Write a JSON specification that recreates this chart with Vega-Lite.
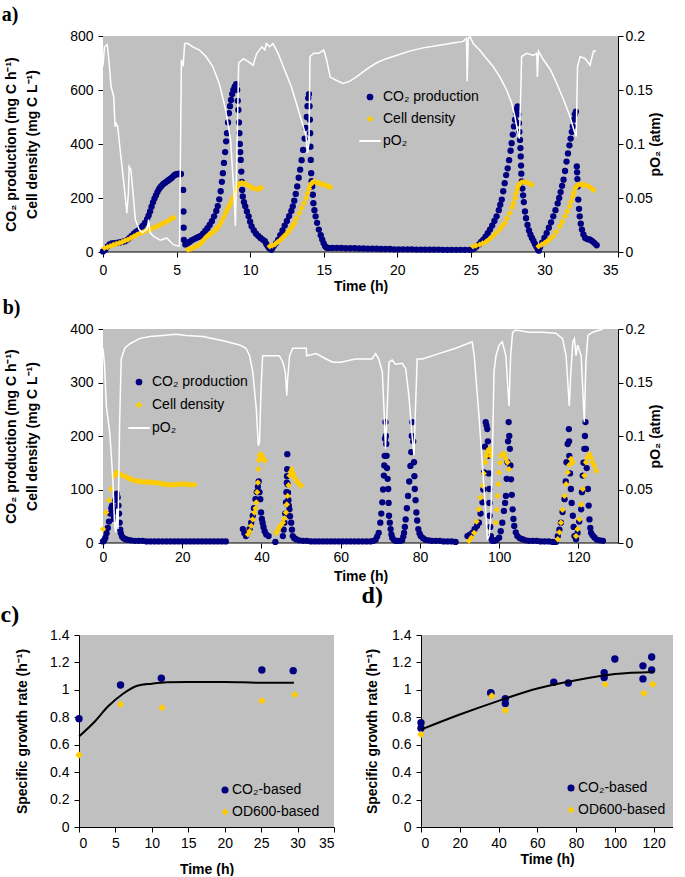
{
"$schema": "https://vega.github.io/schema/vega-lite/v6.json",
"background": "white",
"padding": {"left": 0, "top": 5, "right": 0, "bottom": 0},
"config": {
 "font": "Liberation Sans",
 "view": {"fill": "#C0C0C0", "stroke": null},
 "axis": {"domainColor": "black", "tickColor": "black", "labelColor": "black", "titleColor": "black", "labelFont": "Liberation Sans", "titleFont": "Liberation Sans", "labelFontSize": 14, "titleFontSize": 14, "titleFontWeight": "bold", "grid": false, "tickSize": 5, "labelPadding": 5, "domainWidth": 1, "tickWidth": 1, "labelOverlap": false},
 "legend": {"labelFont": "Liberation Sans", "labelFontSize": 14, "labelColor": "black", "title": null},
 "title": {"font": "Liberation Serif", "fontSize": 20, "fontWeight": "bold", "anchor": "start", "frame": "bounds", "color": "black"}
},
"spacing": 1,
"resolve": {"scale": {"color": "independent", "shape": "independent"}},
"vconcat": [
{"spacing": 5, "resolve": {"scale": {"color": "independent", "shape": "independent"}}, "vconcat": [
{
 "title": {"text": "a)", "dx": -3, "offset": 4},
 "width": 539, "height": 216,
 "view": {"fill": null, "stroke": null},
 "layer": [
  {"layer": [
   {
    "data": {"values": [{}]},
    "mark": {"type": "rect", "color": "#C0C0C0"},
    "encoding": {
     "x": {"datum": 0, "type": "quantitative", "scale": {"domain": [-1.63, 35], "nice": false, "zero": false}, "axis": {"values": [0,5,10,15,20,25,30,35], "title": "Time (h)", "labelPadding": 6, "titlePadding": 2, "domain": false, "titleX": 281.5}},
     "x2": {"datum": 35},
     "y": {"datum": 0, "type": "quantitative", "scale": {"domain": [0, 800], "nice": false}, "axis": {"values": [0,200,400,600,800], "title": ["CO₂ production (mg C h⁻¹)", "Cell density (mg C L⁻¹)"], "titleLineHeight": 21, "titlePadding": 30, "offset": -24}},
     "y2": {"datum": 800}
    }
   },
   {
    "data": {"values": [{}]},
    "mark": {"type": "rule", "color": "black", "strokeWidth": 1},
    "encoding": {
     "x": {"datum": 0, "type": "quantitative", "scale": {"domain": [-1.63, 35], "nice": false, "zero": false}, "axis": {"values": [0,5,10,15,20,25,30,35], "title": "Time (h)", "labelPadding": 6, "titlePadding": 2, "domain": false, "titleX": 281.5}},
     "x2": {"datum": 35},
     "y": {"datum": 0, "type": "quantitative", "scale": {"domain": [0, 800], "nice": false}, "axis": {"values": [0,200,400,600,800], "title": ["CO₂ production (mg C h⁻¹)", "Cell density (mg C L⁻¹)"], "titleLineHeight": 21, "titlePadding": 30, "offset": -24}}
    }
   },
   {
   "data": {"values": [
{"t":0,"v":2,"s":"CO₂ production"},{"t":0.15,"v":8,"s":"CO₂ production"},{"t":0.3,"v":20,"s":"CO₂ production"},{"t":0.45,"v":28,"s":"CO₂ production"},{"t":0.6,"v":32,"s":"CO₂ production"},{"t":0.75,"v":33,"s":"CO₂ production"},{"t":0.9,"v":34,"s":"CO₂ production"},{"t":1.05,"v":35,"s":"CO₂ production"},{"t":1.2,"v":36,"s":"CO₂ production"},{"t":1.35,"v":38,"s":"CO₂ production"},{"t":1.5,"v":40,"s":"CO₂ production"},{"t":1.65,"v":45,"s":"CO₂ production"},{"t":1.8,"v":52,"s":"CO₂ production"},{"t":1.95,"v":60,"s":"CO₂ production"},{"t":2.1,"v":68,"s":"CO₂ production"},{"t":2.25,"v":74,"s":"CO₂ production"},{"t":2.4,"v":80,"s":"CO₂ production"},{"t":2.55,"v":88,"s":"CO₂ production"},{"t":2.7,"v":97,"s":"CO₂ production"},{"t":2.85,"v":108,"s":"CO₂ production"},{"t":3.0,"v":122,"s":"CO₂ production"},{"t":3.1,"v":135,"s":"CO₂ production"},{"t":3.2,"v":150,"s":"CO₂ production"},{"t":3.3,"v":168,"s":"CO₂ production"},{"t":3.4,"v":184,"s":"CO₂ production"},{"t":3.5,"v":198,"s":"CO₂ production"},{"t":3.6,"v":210,"s":"CO₂ production"},{"t":3.7,"v":222,"s":"CO₂ production"},{"t":3.8,"v":232,"s":"CO₂ production"},{"t":3.9,"v":240,"s":"CO₂ production"},{"t":4.0,"v":246,"s":"CO₂ production"},{"t":4.1,"v":252,"s":"CO₂ production"},{"t":4.2,"v":256,"s":"CO₂ production"},{"t":4.3,"v":260,"s":"CO₂ production"},{"t":4.4,"v":264,"s":"CO₂ production"},{"t":4.5,"v":268,"s":"CO₂ production"},{"t":4.6,"v":272,"s":"CO₂ production"},{"t":4.7,"v":276,"s":"CO₂ production"},{"t":4.8,"v":282,"s":"CO₂ production"},{"t":4.9,"v":286,"s":"CO₂ production"},{"t":5.0,"v":288,"s":"CO₂ production"},{"t":5.1,"v":289,"s":"CO₂ production"},{"t":5.2,"v":290,"s":"CO₂ production"},{"t":5.3,"v":289,"s":"CO₂ production"},{"t":5.45,"v":230,"s":"CO₂ production"},{"t":5.47,"v":150,"s":"CO₂ production"},{"t":5.48,"v":90,"s":"CO₂ production"},{"t":5.5,"v":45,"s":"CO₂ production"},
{"t":5.6,"v":28,"s":"CO₂ production"},{"t":5.75,"v":32,"s":"CO₂ production"},{"t":5.9,"v":38,"s":"CO₂ production"},{"t":6.05,"v":44,"s":"CO₂ production"},{"t":6.2,"v":48,"s":"CO₂ production"},{"t":6.35,"v":52,"s":"CO₂ production"},{"t":6.5,"v":56,"s":"CO₂ production"},{"t":6.65,"v":60,"s":"CO₂ production"},{"t":6.8,"v":68,"s":"CO₂ production"},{"t":6.95,"v":78,"s":"CO₂ production"},{"t":7.1,"v":88,"s":"CO₂ production"},{"t":7.25,"v":100,"s":"CO₂ production"},{"t":7.4,"v":114,"s":"CO₂ production"},{"t":7.55,"v":132,"s":"CO₂ production"},{"t":7.7,"v":152,"s":"CO₂ production"},{"t":7.8,"v":170,"s":"CO₂ production"},{"t":7.9,"v":195,"s":"CO₂ production"},{"t":8.0,"v":225,"s":"CO₂ production"},{"t":8.08,"v":260,"s":"CO₂ production"},{"t":8.15,"v":292,"s":"CO₂ production"},{"t":8.22,"v":330,"s":"CO₂ production"},{"t":8.3,"v":370,"s":"CO₂ production"},{"t":8.37,"v":410,"s":"CO₂ production"},{"t":8.43,"v":440,"s":"CO₂ production"},{"t":8.5,"v":480,"s":"CO₂ production"},{"t":8.56,"v":514,"s":"CO₂ production"},{"t":8.63,"v":540,"s":"CO₂ production"},{"t":8.7,"v":563,"s":"CO₂ production"},{"t":8.78,"v":585,"s":"CO₂ production"},{"t":8.86,"v":600,"s":"CO₂ production"},{"t":8.95,"v":612,"s":"CO₂ production"},{"t":9.05,"v":622,"s":"CO₂ production"},{"t":9.12,"v":600,"s":"CO₂ production"},{"t":9.16,"v":560,"s":"CO₂ production"},{"t":9.2,"v":526,"s":"CO₂ production"},{"t":9.24,"v":480,"s":"CO₂ production"},{"t":9.27,"v":440,"s":"CO₂ production"},{"t":9.3,"v":400,"s":"CO₂ production"},{"t":9.33,"v":370,"s":"CO₂ production"},{"t":9.36,"v":341,"s":"CO₂ production"},{"t":9.4,"v":298,"s":"CO₂ production"},{"t":9.43,"v":260,"s":"CO₂ production"},{"t":9.46,"v":230,"s":"CO₂ production"},{"t":9.5,"v":206,"s":"CO₂ production"},{"t":9.58,"v":185,"s":"CO₂ production"},{"t":9.67,"v":169,"s":"CO₂ production"},{"t":9.78,"v":150,"s":"CO₂ production"},{"t":9.9,"v":132,"s":"CO₂ production"},{"t":10.0,"v":112,"s":"CO₂ production"},{"t":10.1,"v":95,"s":"CO₂ production"},{"t":10.25,"v":80,"s":"CO₂ production"},{"t":10.4,"v":68,"s":"CO₂ production"},{"t":10.55,"v":60,"s":"CO₂ production"},{"t":10.7,"v":52,"s":"CO₂ production"},{"t":10.85,"v":46,"s":"CO₂ production"},{"t":11.0,"v":40,"s":"CO₂ production"},{"t":11.1,"v":30,"s":"CO₂ production"},{"t":11.2,"v":21,"s":"CO₂ production"},{"t":11.3,"v":14,"s":"CO₂ production"},{"t":11.45,"v":8,"s":"CO₂ production"},
{"t":11.5,"v":15,"s":"CO₂ production"},{"t":11.6,"v":22,"s":"CO₂ production"},{"t":11.75,"v":32,"s":"CO₂ production"},{"t":11.9,"v":45,"s":"CO₂ production"},{"t":12.05,"v":62,"s":"CO₂ production"},{"t":12.2,"v":80,"s":"CO₂ production"},{"t":12.35,"v":98,"s":"CO₂ production"},{"t":12.5,"v":115,"s":"CO₂ production"},{"t":12.65,"v":133,"s":"CO₂ production"},{"t":12.8,"v":152,"s":"CO₂ production"},{"t":12.9,"v":169,"s":"CO₂ production"},{"t":13.0,"v":190,"s":"CO₂ production"},{"t":13.1,"v":215,"s":"CO₂ production"},{"t":13.2,"v":243,"s":"CO₂ production"},{"t":13.3,"v":275,"s":"CO₂ production"},{"t":13.4,"v":305,"s":"CO₂ production"},{"t":13.5,"v":340,"s":"CO₂ production"},{"t":13.6,"v":378,"s":"CO₂ production"},{"t":13.7,"v":420,"s":"CO₂ production"},{"t":13.78,"v":460,"s":"CO₂ production"},{"t":13.85,"v":500,"s":"CO₂ production"},{"t":13.9,"v":540,"s":"CO₂ production"},{"t":13.95,"v":570,"s":"CO₂ production"},{"t":14.0,"v":585,"s":"CO₂ production"},{"t":14.04,"v":540,"s":"CO₂ production"},{"t":14.06,"v":490,"s":"CO₂ production"},{"t":14.08,"v":440,"s":"CO₂ production"},{"t":14.1,"v":390,"s":"CO₂ production"},{"t":14.12,"v":341,"s":"CO₂ production"},{"t":14.15,"v":292,"s":"CO₂ production"},{"t":14.18,"v":262,"s":"CO₂ production"},{"t":14.22,"v":243,"s":"CO₂ production"},{"t":14.26,"v":212,"s":"CO₂ production"},{"t":14.3,"v":181,"s":"CO₂ production"},{"t":14.37,"v":155,"s":"CO₂ production"},{"t":14.45,"v":132,"s":"CO₂ production"},{"t":14.55,"v":108,"s":"CO₂ production"},{"t":14.67,"v":83,"s":"CO₂ production"},{"t":14.8,"v":62,"s":"CO₂ production"},{"t":14.9,"v":46,"s":"CO₂ production"},{"t":15.0,"v":32,"s":"CO₂ production"},{"t":15.1,"v":21,"s":"CO₂ production"},{"t":15.2,"v":16,"s":"CO₂ production"},{"t":15.33,"v":15,"s":"CO₂ production"},
{"t":15.6,"v":15,"s":"CO₂ production"},{"t":15.9,"v":15,"s":"CO₂ production"},{"t":16.2,"v":15,"s":"CO₂ production"},{"t":16.5,"v":14,"s":"CO₂ production"},{"t":16.8,"v":14,"s":"CO₂ production"},{"t":17.1,"v":14,"s":"CO₂ production"},{"t":17.4,"v":13,"s":"CO₂ production"},{"t":17.7,"v":13,"s":"CO₂ production"},{"t":18.0,"v":12,"s":"CO₂ production"},{"t":18.3,"v":12,"s":"CO₂ production"},{"t":18.6,"v":12,"s":"CO₂ production"},{"t":18.9,"v":11,"s":"CO₂ production"},{"t":19.2,"v":11,"s":"CO₂ production"},{"t":19.5,"v":11,"s":"CO₂ production"},{"t":19.8,"v":10,"s":"CO₂ production"},{"t":20.1,"v":10,"s":"CO₂ production"},{"t":20.4,"v":10,"s":"CO₂ production"},{"t":20.7,"v":10,"s":"CO₂ production"},{"t":21.0,"v":10,"s":"CO₂ production"},{"t":21.3,"v":9,"s":"CO₂ production"},{"t":21.6,"v":9,"s":"CO₂ production"},{"t":21.9,"v":9,"s":"CO₂ production"},{"t":22.2,"v":9,"s":"CO₂ production"},{"t":22.5,"v":9,"s":"CO₂ production"},{"t":22.8,"v":9,"s":"CO₂ production"},{"t":23.1,"v":8,"s":"CO₂ production"},{"t":23.4,"v":8,"s":"CO₂ production"},{"t":23.7,"v":8,"s":"CO₂ production"},{"t":24.0,"v":8,"s":"CO₂ production"},{"t":24.3,"v":8,"s":"CO₂ production"},{"t":24.6,"v":8,"s":"CO₂ production"},{"t":24.9,"v":8,"s":"CO₂ production"},
{"t":25.1,"v":10,"s":"CO₂ production"},{"t":25.25,"v":14,"s":"CO₂ production"},{"t":25.4,"v":21,"s":"CO₂ production"},{"t":25.55,"v":28,"s":"CO₂ production"},{"t":25.7,"v":37,"s":"CO₂ production"},{"t":25.85,"v":46,"s":"CO₂ production"},{"t":26.0,"v":57,"s":"CO₂ production"},{"t":26.15,"v":70,"s":"CO₂ production"},{"t":26.3,"v":83,"s":"CO₂ production"},{"t":26.45,"v":98,"s":"CO₂ production"},{"t":26.6,"v":115,"s":"CO₂ production"},{"t":26.75,"v":132,"s":"CO₂ production"},{"t":26.9,"v":155,"s":"CO₂ production"},{"t":27.0,"v":175,"s":"CO₂ production"},{"t":27.1,"v":194,"s":"CO₂ production"},{"t":27.2,"v":225,"s":"CO₂ production"},{"t":27.3,"v":255,"s":"CO₂ production"},{"t":27.4,"v":285,"s":"CO₂ production"},{"t":27.5,"v":310,"s":"CO₂ production"},{"t":27.6,"v":340,"s":"CO₂ production"},{"t":27.7,"v":375,"s":"CO₂ production"},{"t":27.77,"v":403,"s":"CO₂ production"},{"t":27.85,"v":435,"s":"CO₂ production"},{"t":27.93,"v":465,"s":"CO₂ production"},{"t":28.0,"v":490,"s":"CO₂ production"},{"t":28.07,"v":514,"s":"CO₂ production"},{"t":28.13,"v":530,"s":"CO₂ production"},{"t":28.18,"v":539,"s":"CO₂ production"},{"t":28.22,"v":510,"s":"CO₂ production"},{"t":28.27,"v":477,"s":"CO₂ production"},{"t":28.3,"v":445,"s":"CO₂ production"},{"t":28.34,"v":415,"s":"CO₂ production"},{"t":28.37,"v":385,"s":"CO₂ production"},{"t":28.39,"v":354,"s":"CO₂ production"},{"t":28.41,"v":320,"s":"CO₂ production"},{"t":28.43,"v":290,"s":"CO₂ production"},{"t":28.46,"v":261,"s":"CO₂ production"},{"t":28.5,"v":235,"s":"CO₂ production"},{"t":28.55,"v":210,"s":"CO₂ production"},{"t":28.6,"v":185,"s":"CO₂ production"},{"t":28.68,"v":150,"s":"CO₂ production"},{"t":28.75,"v":125,"s":"CO₂ production"},{"t":28.85,"v":100,"s":"CO₂ production"},{"t":28.95,"v":80,"s":"CO₂ production"},{"t":29.05,"v":64,"s":"CO₂ production"},{"t":29.15,"v":52,"s":"CO₂ production"},{"t":29.25,"v":42,"s":"CO₂ production"},{"t":29.35,"v":30,"s":"CO₂ production"},{"t":29.45,"v":20,"s":"CO₂ production"},{"t":29.55,"v":10,"s":"CO₂ production"},{"t":29.62,"v":5,"s":"CO₂ production"},
{"t":29.7,"v":18,"s":"CO₂ production"},{"t":29.85,"v":35,"s":"CO₂ production"},{"t":30.0,"v":52,"s":"CO₂ production"},{"t":30.15,"v":70,"s":"CO₂ production"},{"t":30.3,"v":90,"s":"CO₂ production"},{"t":30.45,"v":110,"s":"CO₂ production"},{"t":30.6,"v":132,"s":"CO₂ production"},{"t":30.75,"v":155,"s":"CO₂ production"},{"t":30.9,"v":180,"s":"CO₂ production"},{"t":31.0,"v":200,"s":"CO₂ production"},{"t":31.1,"v":222,"s":"CO₂ production"},{"t":31.2,"v":245,"s":"CO₂ production"},{"t":31.3,"v":268,"s":"CO₂ production"},{"t":31.4,"v":300,"s":"CO₂ production"},{"t":31.5,"v":335,"s":"CO₂ production"},{"t":31.6,"v":365,"s":"CO₂ production"},{"t":31.7,"v":395,"s":"CO₂ production"},{"t":31.78,"v":420,"s":"CO₂ production"},{"t":31.86,"v":445,"s":"CO₂ production"},{"t":31.93,"v":465,"s":"CO₂ production"},{"t":32.0,"v":490,"s":"CO₂ production"},{"t":32.07,"v":510,"s":"CO₂ production"},{"t":32.14,"v":520,"s":"CO₂ production"},{"t":32.2,"v":317,"s":"CO₂ production"},{"t":32.22,"v":295,"s":"CO₂ production"},{"t":32.24,"v":270,"s":"CO₂ production"},{"t":32.26,"v":243,"s":"CO₂ production"},{"t":32.3,"v":194,"s":"CO₂ production"},{"t":32.35,"v":160,"s":"CO₂ production"},{"t":32.4,"v":132,"s":"CO₂ production"},{"t":32.47,"v":105,"s":"CO₂ production"},{"t":32.55,"v":83,"s":"CO₂ production"},{"t":32.65,"v":65,"s":"CO₂ production"},{"t":32.77,"v":52,"s":"CO₂ production"},{"t":32.9,"v":48,"s":"CO₂ production"},{"t":33.0,"v":47,"s":"CO₂ production"},{"t":33.1,"v":46,"s":"CO₂ production"},{"t":33.25,"v":40,"s":"CO₂ production"},{"t":33.4,"v":33,"s":"CO₂ production"},{"t":33.55,"v":25,"s":"CO₂ production"},
{"t":0.1,"v":15,"s":"Cell density"},{"t":0.3,"v":18,"s":"Cell density"},{"t":0.5,"v":22,"s":"Cell density"},{"t":0.7,"v":26,"s":"Cell density"},{"t":0.9,"v":30,"s":"Cell density"},{"t":1.1,"v":33,"s":"Cell density"},{"t":1.3,"v":37,"s":"Cell density"},{"t":1.5,"v":42,"s":"Cell density"},{"t":1.7,"v":46,"s":"Cell density"},{"t":1.9,"v":52,"s":"Cell density"},{"t":2.1,"v":58,"s":"Cell density"},{"t":2.3,"v":64,"s":"Cell density"},{"t":2.5,"v":69,"s":"Cell density"},{"t":2.7,"v":73,"s":"Cell density"},{"t":2.9,"v":78,"s":"Cell density"},{"t":3.1,"v":82,"s":"Cell density"},{"t":3.3,"v":86,"s":"Cell density"},{"t":3.5,"v":91,"s":"Cell density"},{"t":3.7,"v":96,"s":"Cell density"},{"t":3.9,"v":101,"s":"Cell density"},{"t":4.1,"v":107,"s":"Cell density"},{"t":4.3,"v":112,"s":"Cell density"},{"t":4.5,"v":118,"s":"Cell density"},{"t":4.65,"v":123,"s":"Cell density"},{"t":4.8,"v":127,"s":"Cell density"},
{"t":5.78,"v":9,"s":"Cell density"},{"t":5.95,"v":12,"s":"Cell density"},{"t":6.1,"v":15,"s":"Cell density"},{"t":6.3,"v":20,"s":"Cell density"},{"t":6.5,"v":26,"s":"Cell density"},{"t":6.7,"v":35,"s":"Cell density"},{"t":6.85,"v":45,"s":"Cell density"},{"t":7.0,"v":55,"s":"Cell density"},{"t":7.15,"v":62,"s":"Cell density"},{"t":7.3,"v":67,"s":"Cell density"},{"t":7.45,"v":72,"s":"Cell density"},{"t":7.6,"v":80,"s":"Cell density"},{"t":7.75,"v":88,"s":"Cell density"},{"t":7.9,"v":98,"s":"Cell density"},{"t":8.05,"v":112,"s":"Cell density"},{"t":8.2,"v":128,"s":"Cell density"},{"t":8.33,"v":144,"s":"Cell density"},{"t":8.45,"v":158,"s":"Cell density"},{"t":8.57,"v":170,"s":"Cell density"},{"t":8.67,"v":181,"s":"Cell density"},{"t":8.78,"v":194,"s":"Cell density"},{"t":8.9,"v":206,"s":"Cell density"},{"t":9.0,"v":225,"s":"Cell density"},{"t":9.1,"v":240,"s":"Cell density"},{"t":9.2,"v":250,"s":"Cell density"},{"t":9.3,"v":254,"s":"Cell density"},{"t":9.44,"v":256,"s":"Cell density"},{"t":9.6,"v":253,"s":"Cell density"},{"t":9.78,"v":249,"s":"Cell density"},{"t":9.95,"v":244,"s":"Cell density"},{"t":10.1,"v":238,"s":"Cell density"},{"t":10.3,"v":235,"s":"Cell density"},{"t":10.45,"v":233,"s":"Cell density"},{"t":10.6,"v":235,"s":"Cell density"},{"t":10.75,"v":237,"s":"Cell density"},
{"t":11.33,"v":21,"s":"Cell density"},{"t":11.5,"v":24,"s":"Cell density"},{"t":11.67,"v":28,"s":"Cell density"},{"t":11.85,"v":36,"s":"Cell density"},{"t":12.0,"v":42,"s":"Cell density"},{"t":12.15,"v":50,"s":"Cell density"},{"t":12.3,"v":58,"s":"Cell density"},{"t":12.45,"v":66,"s":"Cell density"},{"t":12.6,"v":75,"s":"Cell density"},{"t":12.75,"v":85,"s":"Cell density"},{"t":12.9,"v":97,"s":"Cell density"},{"t":13.0,"v":107,"s":"Cell density"},{"t":13.15,"v":124,"s":"Cell density"},{"t":13.33,"v":144,"s":"Cell density"},{"t":13.5,"v":163,"s":"Cell density"},{"t":13.67,"v":181,"s":"Cell density"},{"t":13.8,"v":200,"s":"Cell density"},{"t":13.9,"v":218,"s":"Cell density"},{"t":14.0,"v":235,"s":"Cell density"},{"t":14.1,"v":249,"s":"Cell density"},{"t":14.2,"v":256,"s":"Cell density"},{"t":14.33,"v":261,"s":"Cell density"},{"t":14.5,"v":258,"s":"Cell density"},{"t":14.67,"v":255,"s":"Cell density"},{"t":14.85,"v":252,"s":"Cell density"},{"t":15.0,"v":249,"s":"Cell density"},{"t":15.15,"v":246,"s":"Cell density"},{"t":15.33,"v":243,"s":"Cell density"},{"t":15.45,"v":240,"s":"Cell density"},
{"t":25.15,"v":21,"s":"Cell density"},{"t":25.35,"v":24,"s":"Cell density"},{"t":25.6,"v":27,"s":"Cell density"},{"t":25.8,"v":32,"s":"Cell density"},{"t":26.05,"v":39,"s":"Cell density"},{"t":26.25,"v":47,"s":"Cell density"},{"t":26.5,"v":58,"s":"Cell density"},{"t":26.7,"v":70,"s":"Cell density"},{"t":26.95,"v":83,"s":"Cell density"},{"t":27.1,"v":95,"s":"Cell density"},{"t":27.3,"v":107,"s":"Cell density"},{"t":27.45,"v":125,"s":"Cell density"},{"t":27.65,"v":144,"s":"Cell density"},{"t":27.8,"v":165,"s":"Cell density"},{"t":27.9,"v":181,"s":"Cell density"},{"t":28.0,"v":200,"s":"Cell density"},{"t":28.07,"v":218,"s":"Cell density"},{"t":28.15,"v":232,"s":"Cell density"},{"t":28.2,"v":243,"s":"Cell density"},{"t":28.3,"v":252,"s":"Cell density"},{"t":28.45,"v":258,"s":"Cell density"},{"t":28.6,"v":260,"s":"Cell density"},{"t":28.8,"v":258,"s":"Cell density"},{"t":28.95,"v":254,"s":"Cell density"},{"t":29.14,"v":249,"s":"Cell density"},
{"t":29.6,"v":21,"s":"Cell density"},{"t":29.8,"v":27,"s":"Cell density"},{"t":30.0,"v":33,"s":"Cell density"},{"t":30.16,"v":39,"s":"Cell density"},{"t":30.35,"v":47,"s":"Cell density"},{"t":30.6,"v":58,"s":"Cell density"},{"t":30.8,"v":75,"s":"Cell density"},{"t":31.05,"v":95,"s":"Cell density"},{"t":31.2,"v":112,"s":"Cell density"},{"t":31.4,"v":132,"s":"Cell density"},{"t":31.55,"v":150,"s":"Cell density"},{"t":31.7,"v":169,"s":"Cell density"},{"t":31.82,"v":188,"s":"Cell density"},{"t":31.93,"v":206,"s":"Cell density"},{"t":32.0,"v":220,"s":"Cell density"},{"t":32.1,"v":237,"s":"Cell density"},{"t":32.2,"v":245,"s":"Cell density"},{"t":32.3,"v":249,"s":"Cell density"},{"t":32.5,"v":250,"s":"Cell density"},{"t":32.66,"v":249,"s":"Cell density"},{"t":32.85,"v":246,"s":"Cell density"},{"t":33.0,"v":243,"s":"Cell density"},{"t":33.15,"v":238,"s":"Cell density"},{"t":33.34,"v":230,"s":"Cell density"}
   ]},
   "mark": {"type": "point", "filled": true, "opacity": 1, "size": 40},
   "encoding": {
    "x": {"field": "t", "type": "quantitative", "scale": {"domain": [-1.63, 35], "nice": false, "zero": false}, "axis": {"values": [0,5,10,15,20,25,30,35], "title": "Time (h)", "labelPadding": 6, "titlePadding": 2, "domain": false, "titleX": 281.5}},
    "y": {"field": "v", "type": "quantitative", "scale": {"domain": [0, 800], "nice": false}, "axis": {"values": [0,200,400,600,800], "title": ["CO₂ production (mg C h⁻¹)", "Cell density (mg C L⁻¹)"], "titleLineHeight": 21, "titlePadding": 30, "offset": -24}},
    "color": {"field": "s", "type": "nominal", "scale": {"domain": ["CO₂ production", "Cell density", "pO₂"], "range": ["#000080", "#FFCC00", "#FFFFFF"]}, "legend": {"orient": "none", "legendX": 284, "legendY": 54, "symbolSize": 45, "rowPadding": 8, "labelOffset": 6}},
    "shape": {"field": "s", "type": "nominal", "scale": {"domain": ["CO₂ production", "Cell density", "pO₂"], "range": ["circle", "diamond", "M-3.2,-0.3H3.2V0.3H-3.2Z"]}, "legend": {"orient": "none", "legendX": 284, "legendY": 54, "symbolSize": 45, "rowPadding": 8, "labelOffset": 6}}
   }
  }
  ]},
  {
   "data": {"values": [
{"t":0,"p":0.172},{"t":0.1,"p":0.19},{"t":0.29,"p":0.192},{"t":0.4,"p":0.178},{"t":0.55,"p":0.153},{"t":0.73,"p":0.144},{"t":0.82,"p":0.116},{"t":0.9,"p":0.119},{"t":1.0,"p":0.116},{"t":1.22,"p":0.088},{"t":1.44,"p":0.061},{"t":1.62,"p":0.036},{"t":1.73,"p":0.055},{"t":1.78,"p":0.079},{"t":1.9,"p":0.076},{"t":2.0,"p":0.061},{"t":2.2,"p":0.03},{"t":2.45,"p":0.021},{"t":2.67,"p":0.018},{"t":3.0,"p":0.021},{"t":3.1,"p":0.03},{"t":3.2,"p":0.018},{"t":3.45,"p":0.0145},{"t":3.9,"p":0.011},{"t":4.33,"p":0.013},{"t":4.78,"p":0.0068},{"t":5.2,"p":0.0052},{"t":5.33,"p":0.178},{"t":5.45,"p":0.172},{"t":5.55,"p":0.193},{"t":5.78,"p":0.193},{"t":6.1,"p":0.19},{"t":6.55,"p":0.187},{"t":7.0,"p":0.181},{"t":7.45,"p":0.172},{"t":7.9,"p":0.156},{"t":8.33,"p":0.132},{"t":8.67,"p":0.104},{"t":8.9,"p":0.055},{"t":9.0,"p":0.024},{"t":9.1,"p":0.092},{"t":9.22,"p":0.175},{"t":9.55,"p":0.179},{"t":9.9,"p":0.176},{"t":10.2,"p":0.173},{"t":10.45,"p":0.184},{"t":10.8,"p":0.19},{"t":11.0,"p":0.187},{"t":11.1,"p":0.193},{"t":11.33,"p":0.19},{"t":11.55,"p":0.193},{"t":11.9,"p":0.184},{"t":12.33,"p":0.169},{"t":12.8,"p":0.153},{"t":13.2,"p":0.135},{"t":13.55,"p":0.119},{"t":13.8,"p":0.107},{"t":13.9,"p":0.092},{"t":14.0,"p":0.101},{"t":14.07,"p":0.181},{"t":14.33,"p":0.184},{"t":14.67,"p":0.184},{"t":15.0,"p":0.187},{"t":15.2,"p":0.178},{"t":15.44,"p":0.162},{"t":15.84,"p":0.159},{"t":16.3,"p":0.156},{"t":16.75,"p":0.158},{"t":17.2,"p":0.162},{"t":17.9,"p":0.169},{"t":18.57,"p":0.175},{"t":19.25,"p":0.179},{"t":19.93,"p":0.182},{"t":20.84,"p":0.186},{"t":21.75,"p":0.189},{"t":22.66,"p":0.191},{"t":23.57,"p":0.193},{"t":24.48,"p":0.195},{"t":24.7,"p":0.198},{"t":24.75,"p":0.158},{"t":24.82,"p":0.197},{"t":24.93,"p":0.2},{"t":25.16,"p":0.193},{"t":25.6,"p":0.187},{"t":26.07,"p":0.179},{"t":26.5,"p":0.172},{"t":26.98,"p":0.162},{"t":27.43,"p":0.15},{"t":27.77,"p":0.138},{"t":28.0,"p":0.125},{"t":28.2,"p":0.11},{"t":28.3,"p":0.105},{"t":28.4,"p":0.153},{"t":28.45,"p":0.181},{"t":28.8,"p":0.184},{"t":29.25,"p":0.182},{"t":29.48,"p":0.184},{"t":29.52,"p":0.162},{"t":29.6,"p":0.186},{"t":29.93,"p":0.178},{"t":30.4,"p":0.169},{"t":30.84,"p":0.156},{"t":31.3,"p":0.141},{"t":31.75,"p":0.125},{"t":32.0,"p":0.113},{"t":32.16,"p":0.107},{"t":32.25,"p":0.172},{"t":32.43,"p":0.181},{"t":32.77,"p":0.179},{"t":33.1,"p":0.173},{"t":33.2,"p":0.179},{"t":33.34,"p":0.186},{"t":33.5,"p":0.186}
   ]},
   "mark": {"type": "line", "color": "#FFFFFF", "strokeWidth": 1.5},
   "encoding": {
    "x": {"field": "t", "type": "quantitative", "scale": {"domain": [-1.63, 35], "nice": false, "zero": false}, "axis": {"values": [0,5,10,15,20,25,30,35], "title": "Time (h)", "labelPadding": 6, "titlePadding": 2, "domain": false, "titleX": 281.5}},
    "y": {"field": "p", "type": "quantitative", "scale": {"domain": [0, 0.2], "nice": false}, "axis": {"orient": "right", "values": [0,0.05,0.1,0.15,0.2], "format": "~g", "title": "pO₂ (atm)", "titleAngle": 270, "labelPadding": 2, "titlePadding": 10}}
   }
  }
 ],
 "resolve": {"scale": {"y": "independent"}}
},
{
 "title": {"text": "b)", "dx": -2, "offset": 4},
 "width": 539, "height": 214,
 "view": {"fill": null, "stroke": null},
 "layer": [
  {"layer": [
   {
    "data": {"values": [{}]},
    "mark": {"type": "rect", "color": "#C0C0C0"},
    "encoding": {
     "x": {"datum": 0, "type": "quantitative", "scale": {"domain": [-6.06, 130], "nice": false, "zero": false}, "axis": {"values": [0,20,40,60,80,100,120], "title": "Time (h)", "labelPadding": 2, "titlePadding": 5, "domain": false, "titleX": 281.5}},
     "x2": {"datum": 130},
     "y": {"datum": 0, "type": "quantitative", "scale": {"domain": [0, 400], "nice": false}, "axis": {"values": [0,100,200,300,400], "title": ["CO₂ production (mg C h⁻¹)", "Cell density (mg C L⁻¹)"], "titleLineHeight": 21, "titlePadding": 30, "offset": -24}},
     "y2": {"datum": 400}
    }
   },
   {
    "data": {"values": [{}]},
    "mark": {"type": "rule", "color": "black", "strokeWidth": 1},
    "encoding": {
     "x": {"datum": 0, "type": "quantitative", "scale": {"domain": [-6.06, 130], "nice": false, "zero": false}, "axis": {"values": [0,20,40,60,80,100,120], "title": "Time (h)", "labelPadding": 2, "titlePadding": 5, "domain": false, "titleX": 281.5}},
     "x2": {"datum": 130},
     "y": {"datum": 0, "type": "quantitative", "scale": {"domain": [0, 400], "nice": false}, "axis": {"values": [0,100,200,300,400], "title": ["CO₂ production (mg C h⁻¹)", "Cell density (mg C L⁻¹)"], "titleLineHeight": 21, "titlePadding": 30, "offset": -24}}
    }
   },
   {
   "data": {"values": [
{"t":0,"v":3,"s":"CO₂ production"},{"t":0.3,"v":5,"s":"CO₂ production"},{"t":0.6,"v":10,"s":"CO₂ production"},{"t":0.9,"v":18,"s":"CO₂ production"},{"t":1.2,"v":28,"s":"CO₂ production"},{"t":1.5,"v":40,"s":"CO₂ production"},{"t":1.8,"v":55,"s":"CO₂ production"},{"t":2.1,"v":65,"s":"CO₂ production"},{"t":2.3,"v":70,"s":"CO₂ production"},{"t":2.5,"v":55,"s":"CO₂ production"},{"t":2.7,"v":45,"s":"CO₂ production"},{"t":2.9,"v":62,"s":"CO₂ production"},{"t":3.1,"v":80,"s":"CO₂ production"},{"t":3.3,"v":90,"s":"CO₂ production"},{"t":3.5,"v":92,"s":"CO₂ production"},{"t":3.7,"v":85,"s":"CO₂ production"},{"t":3.9,"v":70,"s":"CO₂ production"},{"t":4.05,"v":55,"s":"CO₂ production"},{"t":4.2,"v":38,"s":"CO₂ production"},{"t":4.35,"v":25,"s":"CO₂ production"},{"t":4.5,"v":18,"s":"CO₂ production"},{"t":4.8,"v":12,"s":"CO₂ production"},{"t":5.2,"v":9,"s":"CO₂ production"},{"t":5.7,"v":7,"s":"CO₂ production"},{"t":6.3,"v":6,"s":"CO₂ production"},{"t":7,"v":5,"s":"CO₂ production"},{"t":8,"v":4,"s":"CO₂ production"},{"t":9,"v":4,"s":"CO₂ production"},{"t":10,"v":4,"s":"CO₂ production"},{"t":11,"v":3,"s":"CO₂ production"},{"t":12,"v":3,"s":"CO₂ production"},{"t":13,"v":3,"s":"CO₂ production"},{"t":14,"v":3,"s":"CO₂ production"},{"t":15,"v":3,"s":"CO₂ production"},{"t":16,"v":3,"s":"CO₂ production"},{"t":17,"v":3,"s":"CO₂ production"},{"t":18,"v":3,"s":"CO₂ production"},{"t":19,"v":3,"s":"CO₂ production"},{"t":20,"v":3,"s":"CO₂ production"},{"t":21,"v":3,"s":"CO₂ production"},{"t":22,"v":3,"s":"CO₂ production"},{"t":23,"v":3,"s":"CO₂ production"},{"t":24,"v":3,"s":"CO₂ production"},{"t":25,"v":3,"s":"CO₂ production"},{"t":26,"v":3,"s":"CO₂ production"},{"t":27,"v":3,"s":"CO₂ production"},{"t":28,"v":3,"s":"CO₂ production"},{"t":29,"v":3,"s":"CO₂ production"},{"t":30,"v":3,"s":"CO₂ production"},{"t":31,"v":3,"s":"CO₂ production"},
{"t":35.3,"v":26,"s":"CO₂ production"},{"t":35.7,"v":18,"s":"CO₂ production"},{"t":36.1,"v":13,"s":"CO₂ production"},{"t":36.5,"v":18,"s":"CO₂ production"},{"t":37.0,"v":26,"s":"CO₂ production"},{"t":37.4,"v":38,"s":"CO₂ production"},{"t":37.8,"v":51,"s":"CO₂ production"},{"t":38.1,"v":65,"s":"CO₂ production"},{"t":38.5,"v":82,"s":"CO₂ production"},{"t":38.8,"v":95,"s":"CO₂ production"},{"t":39.1,"v":105,"s":"CO₂ production"},{"t":39.3,"v":115,"s":"CO₂ production"},{"t":39.5,"v":95,"s":"CO₂ production"},{"t":39.7,"v":82,"s":"CO₂ production"},{"t":39.9,"v":57,"s":"CO₂ production"},{"t":40.1,"v":45,"s":"CO₂ production"},{"t":40.3,"v":38,"s":"CO₂ production"},{"t":40.5,"v":30,"s":"CO₂ production"},{"t":40.8,"v":22,"s":"CO₂ production"},{"t":41.2,"v":16,"s":"CO₂ production"},{"t":41.8,"v":13,"s":"CO₂ production"},{"t":43.5,"v":2,"s":"CO₂ production"},
{"t":45.4,"v":13,"s":"CO₂ production"},{"t":45.6,"v":25,"s":"CO₂ production"},{"t":45.8,"v":38,"s":"CO₂ production"},{"t":46.0,"v":55,"s":"CO₂ production"},{"t":46.2,"v":76,"s":"CO₂ production"},{"t":46.3,"v":95,"s":"CO₂ production"},{"t":46.4,"v":113,"s":"CO₂ production"},{"t":46.45,"v":125,"s":"CO₂ production"},{"t":46.5,"v":138,"s":"CO₂ production"},{"t":46.52,"v":166,"s":"CO₂ production"},{"t":46.6,"v":110,"s":"CO₂ production"},{"t":46.7,"v":94,"s":"CO₂ production"},{"t":46.8,"v":80,"s":"CO₂ production"},{"t":46.9,"v":70,"s":"CO₂ production"},{"t":47.05,"v":63,"s":"CO₂ production"},{"t":47.2,"v":50,"s":"CO₂ production"},{"t":47.5,"v":38,"s":"CO₂ production"},{"t":47.7,"v":25,"s":"CO₂ production"},{"t":47.9,"v":13,"s":"CO₂ production"},{"t":48.3,"v":9,"s":"CO₂ production"},{"t":48.7,"v":7,"s":"CO₂ production"},{"t":49.5,"v":5,"s":"CO₂ production"},{"t":50.5,"v":4,"s":"CO₂ production"},{"t":51.5,"v":4,"s":"CO₂ production"},{"t":52.5,"v":3,"s":"CO₂ production"},{"t":53.5,"v":3,"s":"CO₂ production"},{"t":54.5,"v":3,"s":"CO₂ production"},{"t":55.5,"v":3,"s":"CO₂ production"},{"t":56.5,"v":3,"s":"CO₂ production"},{"t":57.5,"v":3,"s":"CO₂ production"},{"t":58.5,"v":3,"s":"CO₂ production"},{"t":59.5,"v":3,"s":"CO₂ production"},{"t":60.5,"v":3,"s":"CO₂ production"},{"t":61.5,"v":3,"s":"CO₂ production"},{"t":62.5,"v":3,"s":"CO₂ production"},{"t":63.5,"v":3,"s":"CO₂ production"},{"t":64.5,"v":3,"s":"CO₂ production"},{"t":65.5,"v":3,"s":"CO₂ production"},{"t":66.5,"v":3,"s":"CO₂ production"},{"t":67.5,"v":3,"s":"CO₂ production"},{"t":68.3,"v":4,"s":"CO₂ production"},
{"t":68.8,"v":6,"s":"CO₂ production"},{"t":69.2,"v":12,"s":"CO₂ production"},{"t":69.6,"v":19,"s":"CO₂ production"},{"t":70.0,"v":38,"s":"CO₂ production"},{"t":70.25,"v":55,"s":"CO₂ production"},{"t":70.5,"v":76,"s":"CO₂ production"},{"t":70.7,"v":100,"s":"CO₂ production"},{"t":70.9,"v":126,"s":"CO₂ production"},{"t":71.0,"v":145,"s":"CO₂ production"},{"t":71.1,"v":163,"s":"CO₂ production"},{"t":71.2,"v":195,"s":"CO₂ production"},{"t":71.3,"v":226,"s":"CO₂ production"},{"t":71.4,"v":200,"s":"CO₂ production"},{"t":71.5,"v":185,"s":"CO₂ production"},{"t":71.6,"v":163,"s":"CO₂ production"},{"t":71.7,"v":140,"s":"CO₂ production"},{"t":71.85,"v":120,"s":"CO₂ production"},{"t":72.0,"v":101,"s":"CO₂ production"},{"t":72.1,"v":75,"s":"CO₂ production"},{"t":72.2,"v":51,"s":"CO₂ production"},{"t":72.4,"v":38,"s":"CO₂ production"},{"t":72.6,"v":26,"s":"CO₂ production"},{"t":72.8,"v":16,"s":"CO₂ production"},{"t":73.0,"v":10,"s":"CO₂ production"},{"t":73.4,"v":6,"s":"CO₂ production"},{"t":73.8,"v":4,"s":"CO₂ production"},{"t":74.4,"v":4,"s":"CO₂ production"},{"t":75.0,"v":4,"s":"CO₂ production"},{"t":75.5,"v":5,"s":"CO₂ production"},
{"t":75.8,"v":12,"s":"CO₂ production"},{"t":76.0,"v":19,"s":"CO₂ production"},{"t":76.2,"v":30,"s":"CO₂ production"},{"t":76.4,"v":44,"s":"CO₂ production"},{"t":76.7,"v":65,"s":"CO₂ production"},{"t":77.0,"v":88,"s":"CO₂ production"},{"t":77.3,"v":115,"s":"CO₂ production"},{"t":77.6,"v":144,"s":"CO₂ production"},{"t":77.8,"v":170,"s":"CO₂ production"},{"t":77.95,"v":200,"s":"CO₂ production"},{"t":78.1,"v":226,"s":"CO₂ production"},{"t":78.3,"v":190,"s":"CO₂ production"},{"t":78.5,"v":151,"s":"CO₂ production"},{"t":78.6,"v":125,"s":"CO₂ production"},{"t":78.7,"v":101,"s":"CO₂ production"},{"t":78.9,"v":80,"s":"CO₂ production"},{"t":79.1,"v":57,"s":"CO₂ production"},{"t":79.3,"v":42,"s":"CO₂ production"},{"t":79.6,"v":26,"s":"CO₂ production"},{"t":79.9,"v":18,"s":"CO₂ production"},{"t":80.2,"v":13,"s":"CO₂ production"},{"t":80.8,"v":9,"s":"CO₂ production"},{"t":81.4,"v":6,"s":"CO₂ production"},{"t":82.2,"v":5,"s":"CO₂ production"},{"t":83,"v":4,"s":"CO₂ production"},{"t":84,"v":4,"s":"CO₂ production"},{"t":85,"v":4,"s":"CO₂ production"},{"t":86,"v":3,"s":"CO₂ production"},{"t":87,"v":3,"s":"CO₂ production"},{"t":88,"v":3,"s":"CO₂ production"},{"t":89,"v":2,"s":"CO₂ production"},
{"t":92.0,"v":13,"s":"CO₂ production"},{"t":92.5,"v":15,"s":"CO₂ production"},{"t":93.2,"v":19,"s":"CO₂ production"},{"t":93.8,"v":26,"s":"CO₂ production"},{"t":94.4,"v":32,"s":"CO₂ production"},{"t":94.9,"v":38,"s":"CO₂ production"},{"t":95.3,"v":55,"s":"CO₂ production"},{"t":95.8,"v":76,"s":"CO₂ production"},{"t":96.0,"v":100,"s":"CO₂ production"},{"t":96.2,"v":132,"s":"CO₂ production"},{"t":96.4,"v":180,"s":"CO₂ production"},{"t":96.6,"v":226,"s":"CO₂ production"},{"t":96.8,"v":220,"s":"CO₂ production"},{"t":97.0,"v":213,"s":"CO₂ production"},{"t":97.15,"v":190,"s":"CO₂ production"},{"t":97.3,"v":163,"s":"CO₂ production"},{"t":97.4,"v":130,"s":"CO₂ production"},{"t":97.5,"v":101,"s":"CO₂ production"},{"t":97.55,"v":75,"s":"CO₂ production"},{"t":97.6,"v":51,"s":"CO₂ production"},{"t":97.75,"v":30,"s":"CO₂ production"},{"t":97.9,"v":13,"s":"CO₂ production"},{"t":98.1,"v":7,"s":"CO₂ production"},{"t":98.3,"v":4,"s":"CO₂ production"},{"t":98.8,"v":4,"s":"CO₂ production"},{"t":99.4,"v":6,"s":"CO₂ production"},
{"t":100.0,"v":10,"s":"CO₂ production"},{"t":100.4,"v":22,"s":"CO₂ production"},{"t":100.8,"v":38,"s":"CO₂ production"},{"t":101.2,"v":60,"s":"CO₂ production"},{"t":101.5,"v":75,"s":"CO₂ production"},{"t":101.7,"v":88,"s":"CO₂ production"},{"t":101.9,"v":120,"s":"CO₂ production"},{"t":102.1,"v":151,"s":"CO₂ production"},{"t":102.25,"v":190,"s":"CO₂ production"},{"t":102.4,"v":226,"s":"CO₂ production"},{"t":102.55,"v":200,"s":"CO₂ production"},{"t":102.7,"v":176,"s":"CO₂ production"},{"t":102.85,"v":145,"s":"CO₂ production"},{"t":103.0,"v":119,"s":"CO₂ production"},{"t":103.2,"v":90,"s":"CO₂ production"},{"t":103.4,"v":63,"s":"CO₂ production"},{"t":103.6,"v":45,"s":"CO₂ production"},{"t":103.8,"v":32,"s":"CO₂ production"},{"t":104.2,"v":20,"s":"CO₂ production"},{"t":104.6,"v":13,"s":"CO₂ production"},{"t":105.2,"v":9,"s":"CO₂ production"},{"t":105.9,"v":7,"s":"CO₂ production"},{"t":106.7,"v":5,"s":"CO₂ production"},{"t":107.5,"v":4,"s":"CO₂ production"},{"t":108.5,"v":4,"s":"CO₂ production"},{"t":109.5,"v":4,"s":"CO₂ production"},{"t":110.5,"v":3,"s":"CO₂ production"},{"t":111.5,"v":3,"s":"CO₂ production"},{"t":112.5,"v":3,"s":"CO₂ production"},{"t":113.5,"v":2,"s":"CO₂ production"},{"t":114.3,"v":2,"s":"CO₂ production"},
{"t":114.8,"v":13,"s":"CO₂ production"},{"t":115.2,"v":25,"s":"CO₂ production"},{"t":115.6,"v":38,"s":"CO₂ production"},{"t":116.0,"v":58,"s":"CO₂ production"},{"t":116.5,"v":82,"s":"CO₂ production"},{"t":116.8,"v":115,"s":"CO₂ production"},{"t":117.0,"v":151,"s":"CO₂ production"},{"t":117.3,"v":185,"s":"CO₂ production"},{"t":117.6,"v":213,"s":"CO₂ production"},{"t":117.65,"v":190,"s":"CO₂ production"},{"t":117.7,"v":163,"s":"CO₂ production"},{"t":117.9,"v":130,"s":"CO₂ production"},{"t":118.1,"v":101,"s":"CO₂ production"},{"t":118.3,"v":75,"s":"CO₂ production"},{"t":118.6,"v":51,"s":"CO₂ production"},{"t":118.8,"v":30,"s":"CO₂ production"},{"t":119.0,"v":13,"s":"CO₂ production"},{"t":119.4,"v":7,"s":"CO₂ production"},
{"t":119.8,"v":19,"s":"CO₂ production"},{"t":120.2,"v":40,"s":"CO₂ production"},{"t":120.7,"v":63,"s":"CO₂ production"},{"t":120.9,"v":95,"s":"CO₂ production"},{"t":121.1,"v":126,"s":"CO₂ production"},{"t":121.3,"v":150,"s":"CO₂ production"},{"t":121.5,"v":176,"s":"CO₂ production"},{"t":121.65,"v":200,"s":"CO₂ production"},{"t":121.8,"v":226,"s":"CO₂ production"},{"t":121.9,"v":176,"s":"CO₂ production"},{"t":122.1,"v":140,"s":"CO₂ production"},{"t":122.4,"v":101,"s":"CO₂ production"},{"t":122.6,"v":70,"s":"CO₂ production"},{"t":122.8,"v":44,"s":"CO₂ production"},{"t":123.0,"v":28,"s":"CO₂ production"},{"t":123.2,"v":19,"s":"CO₂ production"},{"t":123.6,"v":14,"s":"CO₂ production"},{"t":124.1,"v":10,"s":"CO₂ production"},{"t":124.7,"v":6,"s":"CO₂ production"},{"t":125.4,"v":5,"s":"CO₂ production"},{"t":126.2,"v":4,"s":"CO₂ production"},
{"t":0,"v":26,"s":"Cell density"},{"t":0.8,"v":57,"s":"Cell density"},{"t":1.5,"v":80,"s":"Cell density"},{"t":2.1,"v":101,"s":"Cell density"},{"t":2.8,"v":125,"s":"Cell density"},{"t":3.4,"v":132,"s":"Cell density"},{"t":3.8,"v":130,"s":"Cell density"},{"t":4.2,"v":129,"s":"Cell density"},{"t":4.8,"v":127,"s":"Cell density"},{"t":5.4,"v":125,"s":"Cell density"},{"t":5.9,"v":123,"s":"Cell density"},{"t":6.5,"v":121,"s":"Cell density"},{"t":7.1,"v":119,"s":"Cell density"},{"t":7.7,"v":117,"s":"Cell density"},{"t":8.4,"v":116,"s":"Cell density"},{"t":9.0,"v":115,"s":"Cell density"},{"t":9.6,"v":115,"s":"Cell density"},{"t":10.3,"v":114,"s":"Cell density"},{"t":10.9,"v":114,"s":"Cell density"},{"t":11.5,"v":114,"s":"Cell density"},{"t":12.1,"v":113,"s":"Cell density"},{"t":12.8,"v":113,"s":"Cell density"},{"t":13.4,"v":113,"s":"Cell density"},{"t":14.0,"v":112,"s":"Cell density"},{"t":14.6,"v":111,"s":"Cell density"},{"t":15.1,"v":110,"s":"Cell density"},{"t":15.7,"v":110,"s":"Cell density"},{"t":16.4,"v":109,"s":"Cell density"},{"t":17.0,"v":109,"s":"Cell density"},{"t":17.6,"v":109,"s":"Cell density"},{"t":18.3,"v":109,"s":"Cell density"},{"t":18.9,"v":110,"s":"Cell density"},{"t":19.5,"v":110,"s":"Cell density"},{"t":20.2,"v":110,"s":"Cell density"},{"t":20.8,"v":110,"s":"Cell density"},{"t":21.5,"v":109,"s":"Cell density"},{"t":22.3,"v":109,"s":"Cell density"},{"t":23.1,"v":109,"s":"Cell density"},
{"t":36.6,"v":16,"s":"Cell density"},{"t":37.0,"v":22,"s":"Cell density"},{"t":37.4,"v":32,"s":"Cell density"},{"t":37.8,"v":44,"s":"Cell density"},{"t":38.2,"v":57,"s":"Cell density"},{"t":38.5,"v":65,"s":"Cell density"},{"t":38.7,"v":76,"s":"Cell density"},{"t":38.9,"v":95,"s":"Cell density"},{"t":39.1,"v":113,"s":"Cell density"},{"t":39.2,"v":138,"s":"Cell density"},{"t":39.35,"v":155,"s":"Cell density"},{"t":39.5,"v":163,"s":"Cell density"},{"t":39.7,"v":165,"s":"Cell density"},{"t":39.9,"v":166,"s":"Cell density"},{"t":40.1,"v":163,"s":"Cell density"},{"t":40.3,"v":160,"s":"Cell density"},{"t":40.6,"v":156,"s":"Cell density"},{"t":40.8,"v":154,"s":"Cell density"},
{"t":43.7,"v":19,"s":"Cell density"},{"t":44.1,"v":24,"s":"Cell density"},{"t":44.5,"v":29,"s":"Cell density"},{"t":44.9,"v":33,"s":"Cell density"},{"t":45.4,"v":38,"s":"Cell density"},{"t":45.8,"v":46,"s":"Cell density"},{"t":46.2,"v":57,"s":"Cell density"},{"t":46.4,"v":72,"s":"Cell density"},{"t":46.6,"v":88,"s":"Cell density"},{"t":46.85,"v":108,"s":"Cell density"},{"t":47.1,"v":126,"s":"Cell density"},{"t":47.4,"v":133,"s":"Cell density"},{"t":47.7,"v":138,"s":"Cell density"},{"t":48.0,"v":130,"s":"Cell density"},{"t":48.3,"v":123,"s":"Cell density"},{"t":48.7,"v":118,"s":"Cell density"},{"t":49.2,"v":113,"s":"Cell density"},{"t":49.6,"v":110,"s":"Cell density"},{"t":50.0,"v":107,"s":"Cell density"},
{"t":92.4,"v":4,"s":"Cell density"},{"t":93.0,"v":10,"s":"Cell density"},{"t":93.7,"v":19,"s":"Cell density"},{"t":94.3,"v":40,"s":"Cell density"},{"t":94.9,"v":63,"s":"Cell density"},{"t":95.3,"v":85,"s":"Cell density"},{"t":95.8,"v":107,"s":"Cell density"},{"t":96.1,"v":130,"s":"Cell density"},{"t":96.5,"v":151,"s":"Cell density"},{"t":96.75,"v":162,"s":"Cell density"},{"t":97.0,"v":169,"s":"Cell density"},{"t":97.25,"v":173,"s":"Cell density"},{"t":97.5,"v":176,"s":"Cell density"},{"t":97.7,"v":170,"s":"Cell density"},{"t":97.9,"v":163,"s":"Cell density"},
{"t":99.2,"v":38,"s":"Cell density"},{"t":99.4,"v":62,"s":"Cell density"},{"t":99.6,"v":88,"s":"Cell density"},{"t":99.8,"v":110,"s":"Cell density"},{"t":100.0,"v":132,"s":"Cell density"},{"t":100.2,"v":150,"s":"Cell density"},{"t":100.4,"v":163,"s":"Cell density"},{"t":100.8,"v":166,"s":"Cell density"},{"t":101.3,"v":166,"s":"Cell density"},{"t":101.7,"v":158,"s":"Cell density"},{"t":102.1,"v":151,"s":"Cell density"},{"t":102.5,"v":138,"s":"Cell density"},
{"t":114.8,"v":7,"s":"Cell density"},{"t":115.2,"v":20,"s":"Cell density"},{"t":115.6,"v":38,"s":"Cell density"},{"t":116.0,"v":62,"s":"Cell density"},{"t":116.5,"v":88,"s":"Cell density"},{"t":116.9,"v":110,"s":"Cell density"},{"t":117.3,"v":132,"s":"Cell density"},{"t":117.7,"v":146,"s":"Cell density"},{"t":118.1,"v":157,"s":"Cell density"},{"t":118.6,"v":151,"s":"Cell density"},
{"t":119.4,"v":13,"s":"Cell density"},{"t":119.8,"v":26,"s":"Cell density"},{"t":120.3,"v":44,"s":"Cell density"},{"t":120.7,"v":72,"s":"Cell density"},{"t":121.1,"v":101,"s":"Cell density"},{"t":121.5,"v":126,"s":"Cell density"},{"t":121.9,"v":151,"s":"Cell density"},{"t":122.3,"v":160,"s":"Cell density"},{"t":122.8,"v":166,"s":"Cell density"},{"t":123.2,"v":160,"s":"Cell density"},{"t":123.6,"v":151,"s":"Cell density"},{"t":124.0,"v":144,"s":"Cell density"},{"t":124.5,"v":135,"s":"Cell density"}
   ]},
   "mark": {"type": "point", "filled": true, "opacity": 1, "size": 40},
   "encoding": {
    "x": {"field": "t", "type": "quantitative", "scale": {"domain": [-6.06, 130], "nice": false, "zero": false}, "axis": {"values": [0,20,40,60,80,100,120], "title": "Time (h)", "labelPadding": 2, "titlePadding": 5, "domain": false, "titleX": 281.5}},
    "y": {"field": "v", "type": "quantitative", "scale": {"domain": [0, 400], "nice": false}, "axis": {"values": [0,100,200,300,400], "title": ["CO₂ production (mg C h⁻¹)", "Cell density (mg C L⁻¹)"], "titleLineHeight": 21, "titlePadding": 30, "offset": -24}},
    "color": {"field": "s", "type": "nominal", "scale": {"domain": ["CO₂ production", "Cell density", "pO₂"], "range": ["#000080", "#FFCC00", "#FFFFFF"]}, "legend": {"orient": "none", "legendX": 53, "legendY": 46, "symbolSize": 45, "rowPadding": 9, "labelOffset": 6}},
    "shape": {"field": "s", "type": "nominal", "scale": {"domain": ["CO₂ production", "Cell density", "pO₂"], "range": ["circle", "diamond", "M-3.2,-0.3H3.2V0.3H-3.2Z"]}, "legend": {"orient": "none", "legendX": 53, "legendY": 46, "symbolSize": 45, "rowPadding": 9, "labelOffset": 6}}
   }
  }
  ]},
  {
   "data": {"values": [
{"t":0,"p":0.182},{"t":0.4,"p":0.166},{"t":0.84,"p":0.128},{"t":1.26,"p":0.116},{"t":1.7,"p":0.103},{"t":2.1,"p":0.082},{"t":2.5,"p":0.057},{"t":2.9,"p":0.019},{"t":3.2,"p":0.01},{"t":3.5,"p":0.032},{"t":3.8,"p":0.013},{"t":4.2,"p":0.113},{"t":4.6,"p":0.172},{"t":5.5,"p":0.182},{"t":6.7,"p":0.186},{"t":9.2,"p":0.191},{"t":11.8,"p":0.193},{"t":15.1,"p":0.194},{"t":18.5,"p":0.195},{"t":21,"p":0.194},{"t":25.2,"p":0.193},{"t":30.3,"p":0.189},{"t":34.5,"p":0.185},{"t":36.1,"p":0.182},{"t":37,"p":0.175},{"t":37.8,"p":0.16},{"t":38.7,"p":0.125},{"t":39.2,"p":0.091},{"t":39.5,"p":0.094},{"t":39.9,"p":0.144},{"t":40.3,"p":0.175},{"t":42.9,"p":0.175},{"t":44.5,"p":0.175},{"t":45.4,"p":0.169},{"t":46,"p":0.16},{"t":46.4,"p":0.138},{"t":46.6,"p":0.153},{"t":47.1,"p":0.175},{"t":47.9,"p":0.182},{"t":51.3,"p":0.182},{"t":51.4,"p":0.175},{"t":53.8,"p":0.177},{"t":56.3,"p":0.172},{"t":58,"p":0.169},{"t":60,"p":0.169},{"t":63.7,"p":0.172},{"t":66.2,"p":0.172},{"t":67.9,"p":0.172},{"t":68.8,"p":0.177},{"t":69.6,"p":0.172},{"t":70.5,"p":0.16},{"t":70.9,"p":0.128},{"t":71.3,"p":0.088},{"t":71.6,"p":0.113},{"t":72.2,"p":0.169},{"t":73,"p":0.171},{"t":73.8,"p":0.167},{"t":75.5,"p":0.168},{"t":76.4,"p":0.163},{"t":77.2,"p":0.138},{"t":78.1,"p":0.097},{"t":78.5,"p":0.082},{"t":78.9,"p":0.128},{"t":79.3,"p":0.172},{"t":80.6,"p":0.172},{"t":84.8,"p":0.177},{"t":89,"p":0.182},{"t":93.2,"p":0.188},{"t":93.7,"p":0.175},{"t":94.9,"p":0.119},{"t":96.2,"p":0.05},{"t":96.9,"p":0.013},{"t":97,"p":0.003},{"t":97.5,"p":0.007},{"t":97.9,"p":0.025},{"t":98.3,"p":0.082},{"t":98.7,"p":0.16},{"t":99.2,"p":0.175},{"t":100,"p":0.185},{"t":100.8,"p":0.188},{"t":101.7,"p":0.175},{"t":102.1,"p":0.15},{"t":102.5,"p":0.128},{"t":102.9,"p":0.175},{"t":103.4,"p":0.197},{"t":104.2,"p":0.199},{"t":107.6,"p":0.197},{"t":111,"p":0.197},{"t":114.3,"p":0.196},{"t":116,"p":0.191},{"t":116.9,"p":0.175},{"t":117.7,"p":0.128},{"t":118.1,"p":0.16},{"t":118.6,"p":0.188},{"t":119,"p":0.191},{"t":119.4,"p":0.175},{"t":119.8,"p":0.185},{"t":120.7,"p":0.175},{"t":121.1,"p":0.144},{"t":121.5,"p":0.113},{"t":121.9,"p":0.169},{"t":122.4,"p":0.194},{"t":123.6,"p":0.197},{"t":126.2,"p":0.2}
   ]},
   "mark": {"type": "line", "color": "#FFFFFF", "strokeWidth": 1.5},
   "encoding": {
    "x": {"field": "t", "type": "quantitative", "scale": {"domain": [-6.06, 130], "nice": false, "zero": false}, "axis": {"values": [0,20,40,60,80,100,120], "title": "Time (h)", "labelPadding": 2, "titlePadding": 5, "domain": false, "titleX": 281.5}},
    "y": {"field": "p", "type": "quantitative", "scale": {"domain": [0, 0.2], "nice": false}, "axis": {"orient": "right", "values": [0,0.05,0.1,0.15,0.2], "format": "~g", "title": "pO₂ (atm)", "titleAngle": 270, "labelPadding": 2, "titlePadding": 10}}
   }
  }
 ],
 "resolve": {"scale": {"y": "independent"}}
}
]},
{"hconcat": [
{
 "title": {"text": "c)", "dx": -15, "offset": 1, "fontSize": 24},
 "width": 255, "height": 192,
 "layer": [
  {
   "data": {"values": [
{"t":0,"v":0.79,"s":"CO₂-based"},{"t":5.7,"v":1.035,"s":"CO₂-based"},{"t":11.3,"v":1.085,"s":"CO₂-based"},{"t":25.1,"v":1.145,"s":"CO₂-based"},{"t":29.4,"v":1.14,"s":"CO₂-based"},
{"t":0,"v":0.525,"s":"OD600-based"},{"t":5.7,"v":0.895,"s":"OD600-based"},{"t":11.4,"v":0.87,"s":"OD600-based"},{"t":25.1,"v":0.92,"s":"OD600-based"},{"t":29.6,"v":0.965,"s":"OD600-based"}
   ]},
   "mark": {"type": "point", "filled": true, "opacity": 1, "size": 55},
   "encoding": {
    "x": {"field": "t", "type": "quantitative", "scale": {"domain": [0, 35], "nice": false}, "axis": {"values": [0,5,10,15,20,25,30,35], "title": "Time (h)", "labelPadding": 4, "titlePadding": 12}},
    "y": {"field": "v", "type": "quantitative", "scale": {"domain": [0, 1.4], "nice": false}, "axis": {"values": [0,0.2,0.4,0.6,0.8,1,1.2,1.4], "format": "~g", "title": "Specific growth rate (h⁻¹)", "titlePadding": 20}},
    "color": {"field": "s", "type": "nominal", "scale": {"domain": ["CO₂-based", "OD600-based"], "range": ["#000080", "#FFCC00"]}, "legend": {"orient": "none", "legendX": 139, "legendY": 148, "symbolSize": 50, "rowPadding": 8, "labelOffset": 0}},
    "shape": {"field": "s", "type": "nominal", "scale": {"domain": ["CO₂-based", "OD600-based"], "range": ["circle", "diamond"]}, "legend": {"orient": "none", "legendX": 139, "legendY": 148, "symbolSize": 50, "rowPadding": 8, "labelOffset": 0}}
   }
  },
  {
   "data": {"values": [
{"t":0,"m":0.66},{"t":2,"m":0.76},{"t":4,"m":0.88},{"t":6,"m":0.97},{"t":8,"m":1.03},{"t":10,"m":1.045},{"t":12,"m":1.055},{"t":15,"m":1.058},{"t":20,"m":1.058},{"t":25,"m":1.052},{"t":29.5,"m":1.052}
   ]},
   "mark": {"type": "line", "color": "black", "strokeWidth": 2, "interpolate": "monotone"},
   "encoding": {
    "x": {"field": "t", "type": "quantitative", "axis": {"values": [0,5,10,15,20,25,30,35], "title": "Time (h)", "labelPadding": 4, "titlePadding": 12}},
    "y": {"field": "m", "type": "quantitative", "axis": {"values": [0,0.2,0.4,0.6,0.8,1,1.2,1.4], "format": "~g", "title": "Specific growth rate (h⁻¹)", "titlePadding": 20}}
   }
  }
 ]
},
{
 "title": {"text": "d)", "dx": -4, "offset": 20, "fontSize": 24},
 "width": 252, "height": 192,
 "layer": [
  {
   "data": {"values": [
{"t":0,"v":0.76,"s":"CO₂-based"},{"t":0,"v":0.72,"s":"CO₂-based"},{"t":36,"v":0.98,"s":"CO₂-based"},{"t":36,"v":0.975,"s":"CO₂-based"},{"t":43.5,"v":0.935,"s":"CO₂-based"},{"t":43.5,"v":0.9,"s":"CO₂-based"},{"t":68.5,"v":1.055,"s":"CO₂-based"},{"t":76,"v":1.05,"s":"CO₂-based"},{"t":94.5,"v":1.125,"s":"CO₂-based"},{"t":94.5,"v":1.09,"s":"CO₂-based"},{"t":100,"v":1.225,"s":"CO₂-based"},{"t":114.5,"v":1.175,"s":"CO₂-based"},{"t":114.5,"v":1.08,"s":"CO₂-based"},{"t":119,"v":1.24,"s":"CO₂-based"},{"t":119,"v":1.145,"s":"CO₂-based"},
{"t":0,"v":0.675,"s":"OD600-based"},{"t":36.5,"v":0.955,"s":"OD600-based"},{"t":43.5,"v":0.85,"s":"OD600-based"},{"t":95,"v":1.04,"s":"OD600-based"},{"t":115,"v":0.975,"s":"OD600-based"},{"t":119.5,"v":1.04,"s":"OD600-based"}
   ]},
   "mark": {"type": "point", "filled": true, "opacity": 1, "size": 55},
   "encoding": {
    "x": {"field": "t", "type": "quantitative", "scale": {"domain": [0, 130], "nice": false}, "axis": {"values": [0,20,40,60,80,100,120], "title": "Time (h)", "labelPadding": 4, "titlePadding": 2}},
    "y": {"field": "v", "type": "quantitative", "scale": {"domain": [0, 1.4], "nice": false}, "axis": {"values": [0,0.2,0.4,0.6,0.8,1,1.2,1.4], "format": "~g", "title": "Specific growth rate (h⁻¹)", "titlePadding": 12}},
    "color": {"field": "s", "type": "nominal", "scale": {"domain": ["CO₂-based", "OD600-based"], "range": ["#000080", "#FFCC00"]}, "legend": {"orient": "none", "legendX": 143, "legendY": 146, "symbolSize": 50, "rowPadding": 8, "labelOffset": 0}},
    "shape": {"field": "s", "type": "nominal", "scale": {"domain": ["CO₂-based", "OD600-based"], "range": ["circle", "diamond"]}, "legend": {"orient": "none", "legendX": 143, "legendY": 146, "symbolSize": 50, "rowPadding": 8, "labelOffset": 0}}
   }
  },
  {
   "data": {"values": [
{"t":0,"m":0.71},{"t":20,"m":0.82},{"t":40,"m":0.92},{"t":60,"m":1.01},{"t":80,"m":1.07},{"t":100,"m":1.115},{"t":120,"m":1.13}
   ]},
   "mark": {"type": "line", "color": "black", "strokeWidth": 2, "interpolate": "monotone"},
   "encoding": {
    "x": {"field": "t", "type": "quantitative", "axis": {"values": [0,20,40,60,80,100,120], "title": "Time (h)", "labelPadding": 4, "titlePadding": 2}},
    "y": {"field": "m", "type": "quantitative", "axis": {"values": [0,0.2,0.4,0.6,0.8,1,1.2,1.4], "format": "~g", "title": "Specific growth rate (h⁻¹)", "titlePadding": 12}}
   }
  }
 ]
}
], "spacing": 87, "bounds": "flush", "resolve": {"scale": {"color": "independent", "shape": "independent"}}}
]
}
